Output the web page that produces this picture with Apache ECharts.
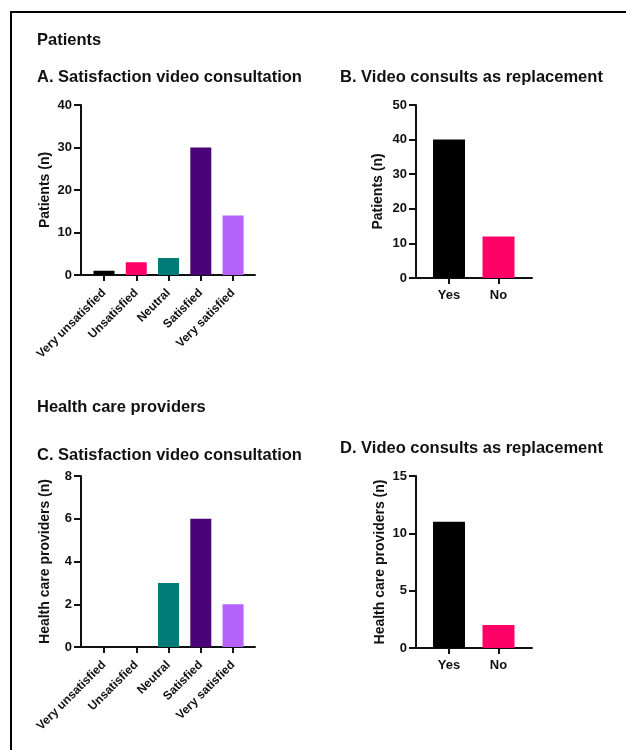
<!DOCTYPE html>
<html><head><meta charset="utf-8">
<script src="https://cdn.jsdelivr.net/npm/echarts@6/dist/echarts.min.js"></script>
<style>html,body{margin:0;padding:0;background:#fff}#c{width:626px;height:750px}</style>
</head><body><div id="c"></div>
<script>
// ---- data ----
const satCategories = ['Very unsatisfied', 'Unsatisfied', 'Neutral', 'Satisfied', 'Very satisfied'];
const replCategories = ['Yes', 'No'];
const patientsSatisfaction = [1, 3, 4, 30, 14];
const patientsReplacement = [40, 12];
const providersSatisfaction = [0, 0, 3, 6, 2];
const providersReplacement = [11, 2];
const patientsSatTicks = [0, 10, 20, 30, 40];
const patientsReplTicks = [0, 10, 20, 30, 40, 50];
const providersSatTicks = [0, 2, 4, 6, 8];
const providersReplTicks = [0, 5, 10, 15];
// ---- styles ----
const satColors = ['#000000', '#ff0066', '#007b78', '#4a0378', '#b462fa'];
const replColors = ['#000000', '#ff0066'];
const ink = '#111';
const font = 'Liberation Sans, Arial, sans-serif';

const panels = [
  {left: 81, width: 174, top: 105, height: 170, cats: satCategories, vals: patientsSatisfaction, colors: satColors,
   ticks: patientsSatTicks, name: 'Patients (n)', nameGap: 29, barWidth: 21, xmin: -0.713, xmax: 4.68, rotate: true},
  {left: 416, width: 116, top: 105, height: 173, cats: replCategories, vals: patientsReplacement, colors: replColors,
   ticks: patientsReplTicks, name: 'Patients (n)', nameGap: 31, barWidth: 32, xmin: -0.667, xmax: 1.677, rotate: false},
  {left: 81, width: 174, top: 476, height: 171, cats: satCategories, vals: providersSatisfaction, colors: satColors,
   ticks: providersSatTicks, name: 'Health care providers (n)', nameGap: 29, barWidth: 21, xmin: -0.713, xmax: 4.68, rotate: true},
  {left: 416, width: 116, top: 476, height: 172, cats: replCategories, vals: providersReplacement, colors: replColors,
   ticks: providersReplTicks, name: 'Health care providers (n)', nameGap: 29, barWidth: 32, xmin: -0.667, xmax: 1.677, rotate: false}
];

const grids = [], xAxes = [], yAxes = [], series = [];
panels.forEach((p, i) => {
  grids.push({left: p.left, top: p.top, width: p.width, height: p.height, containLabel: false});
  const idx = p.cats.map((c, k) => k);
  xAxes.push({
    type: 'value', gridIndex: i, min: p.xmin, max: p.xmax,
    splitLine: {show: false},
    axisLine: {show: true, onZero: false, lineStyle: {color: ink, width: 2}},
    axisTick: {show: true, customValues: idx, length: 6, lineStyle: {color: ink, width: 2}},
    axisLabel: {
      customValues: idx, formatter: v => p.cats[Math.round(v)] || '',
      rotate: p.rotate ? 45 : 0, margin: p.rotate ? 16 : 11,
      color: ink, fontWeight: 'bold', fontSize: p.rotate ? 12 : 13, fontFamily: font
    }
  });
  const step = p.ticks[1] - p.ticks[0];
  yAxes.push({
    type: 'value', gridIndex: i, min: p.ticks[0], max: p.ticks[p.ticks.length - 1], interval: step,
    name: p.name, nameLocation: 'middle', nameGap: p.nameGap,
    nameTextStyle: {color: ink, fontWeight: 'bold', fontSize: 14, fontFamily: font},
    splitLine: {show: false},
    axisLine: {show: true, onZero: false, lineStyle: {color: ink, width: 2}},
    axisTick: {show: true, length: 7, lineStyle: {color: ink, width: 2}},
    axisLabel: {color: ink, fontWeight: 'bold', fontSize: 13, fontFamily: font, margin: 9}
  });
  series.push({
    type: 'bar', xAxisIndex: i, yAxisIndex: i, barWidth: p.barWidth,
    data: p.vals.map((v, k) => ({value: [k, v], itemStyle: {color: p.colors[k]}})),
    animation: false
  });
});

const titleStyle = {color: ink, fontWeight: 'bold', fontSize: 16.5, fontFamily: font};
const chart = echarts.init(document.getElementById('c'), null, {renderer: 'canvas'});
chart.setOption({
  animation: false,
  backgroundColor: '#fff',
  title: [
    {text: 'Patients', left: 37, top: 32, padding: 0, textStyle: titleStyle},
    {text: 'A. Satisfaction video consultation', left: 37, top: 69, padding: 0, textStyle: titleStyle},
    {text: 'B. Video consults as replacement', left: 340, top: 69, padding: 0, textStyle: titleStyle},
    {text: 'Health care providers', left: 37, top: 399, padding: 0, textStyle: titleStyle},
    {text: 'C. Satisfaction video consultation', left: 37, top: 447, padding: 0, textStyle: titleStyle},
    {text: 'D. Video consults as replacement', left: 340, top: 440, padding: 0, textStyle: titleStyle}
  ],
  grid: grids, xAxis: xAxes, yAxis: yAxes, series: series,
  graphic: [
    {type: 'line', shape: {x1: 10, y1: 12, x2: 626, y2: 12}, style: {stroke: '#000', lineWidth: 2}},
    {type: 'line', shape: {x1: 11, y1: 11, x2: 11, y2: 750}, style: {stroke: '#000', lineWidth: 2}}
  ]
});
</script></body></html>
